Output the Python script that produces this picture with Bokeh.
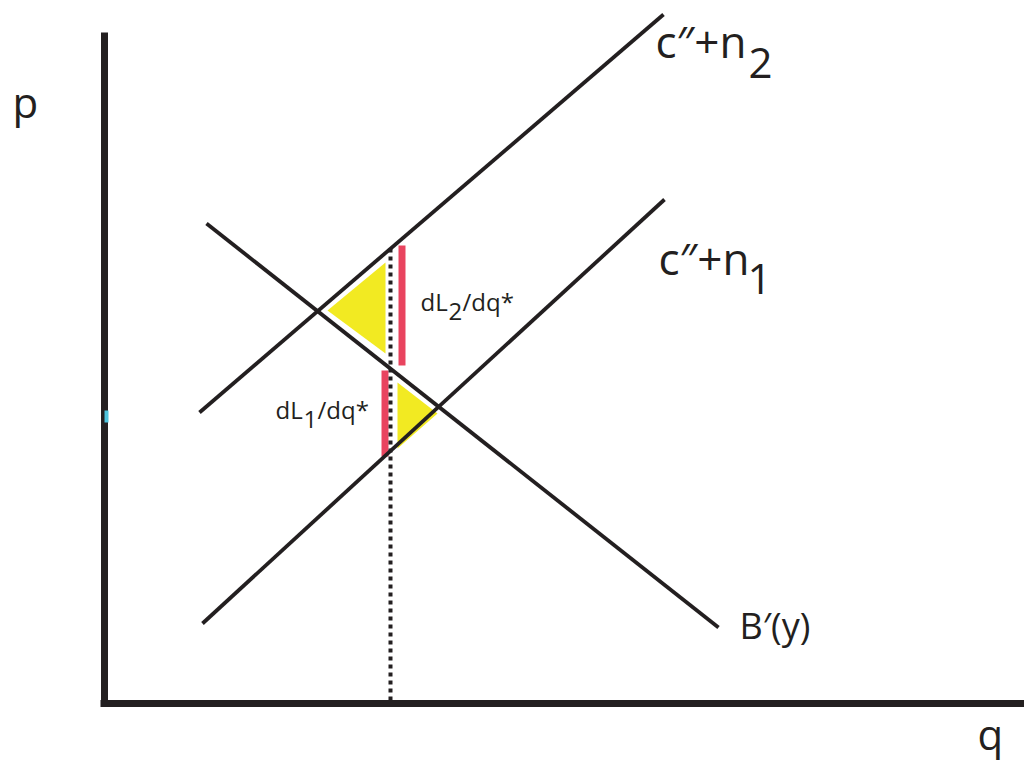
from bokeh.plotting import figure
from bokeh.models import Range1d
from bokeh.core.properties import value
from bokeh.embed import file_html
from bokeh.resources import INLINE

# ---- data (diagram coordinates, y grows downward) ----
axis_x0 = [104, 100]
axis_y0 = [32, 703]
axis_x1 = [104, 1024]
axis_y1 = [706, 703]

mc2_x = [199, 663]      # c''+n2
mc2_y = [412, 14]
mc1_x = [202, 664]      # c''+n1
mc1_y = [623, 199]
mb_x = [206, 718]       # B'(y)
mb_y = [223, 627]

qstar_x = [390, 390]
qstar_y = [248, 700]

tri_xs = [[327, 385, 385], [397, 397, 437]]
tri_ys = [[310, 262, 353], [382, 448, 413]]

bar_left = [398, 381]
bar_right = [405, 388]
bar_top = [245, 370]
bar_bottom = [365, 456]

W, H = 1024, 761
p = figure(width=W, height=H, x_range=Range1d(0, W), y_range=Range1d(H, 0),
           output_backend="svg", toolbar_location=None,
           x_axis_type=None, y_axis_type=None, min_border=0)
p.outline_line_color = None
p.xgrid.visible = False
p.ygrid.visible = False

ink = "#231f20"
p.patches(tri_xs, tri_ys, fill_color="#f2ea22", line_color=None)
p.quad(left=bar_left, right=bar_right, top=bar_top, bottom=bar_bottom,
       fill_color="#e9445f", line_color=None)
p.line(mc2_x, mc2_y, line_color=ink, line_width=3.8)
p.line(mc1_x, mc1_y, line_color=ink, line_width=3.8)
p.line(mb_x, mb_y, line_color=ink, line_width=3.8)
p.line(qstar_x, qstar_y, line_color=ink, line_width=4, line_dash="4 4")
p.segment(axis_x0, axis_y0, axis_x1, axis_y1, line_color=ink, line_width=7)
p.quad(left=[104], right=[108], top=[410], bottom=[422], fill_color="#4fc3dc", line_color=None)

F = value("Open Sans")
def txt(x, y, s, size, align="left"):
    p.text(x=[x], y=[y], text=[s], text_font=F, text_font_size=f"{size}px",
           text_color=ink, text_baseline="alphabetic", text_align=align)

txt(655, 40, "c\u2033+n", 44)
txt(748, 62, "2", 42)
txt(658, 257, "c\u2033+n", 44)
txt(747, 278, "1", 42)
txt(739, 625, "B\u2032(y)", 36)
txt(12, 101, "p", 42)
txt(977, 733, "q", 42)
txt(420, 301, "dL", 24)
txt(448, 311, "2", 24)
txt(462, 301, "/dq*", 24)
txt(275, 409, "dL", 24)
txt(303, 419, "1", 24)
txt(317, 409, "/dq*", 24)

open("out.html", "w").write(file_html(p, INLINE))
